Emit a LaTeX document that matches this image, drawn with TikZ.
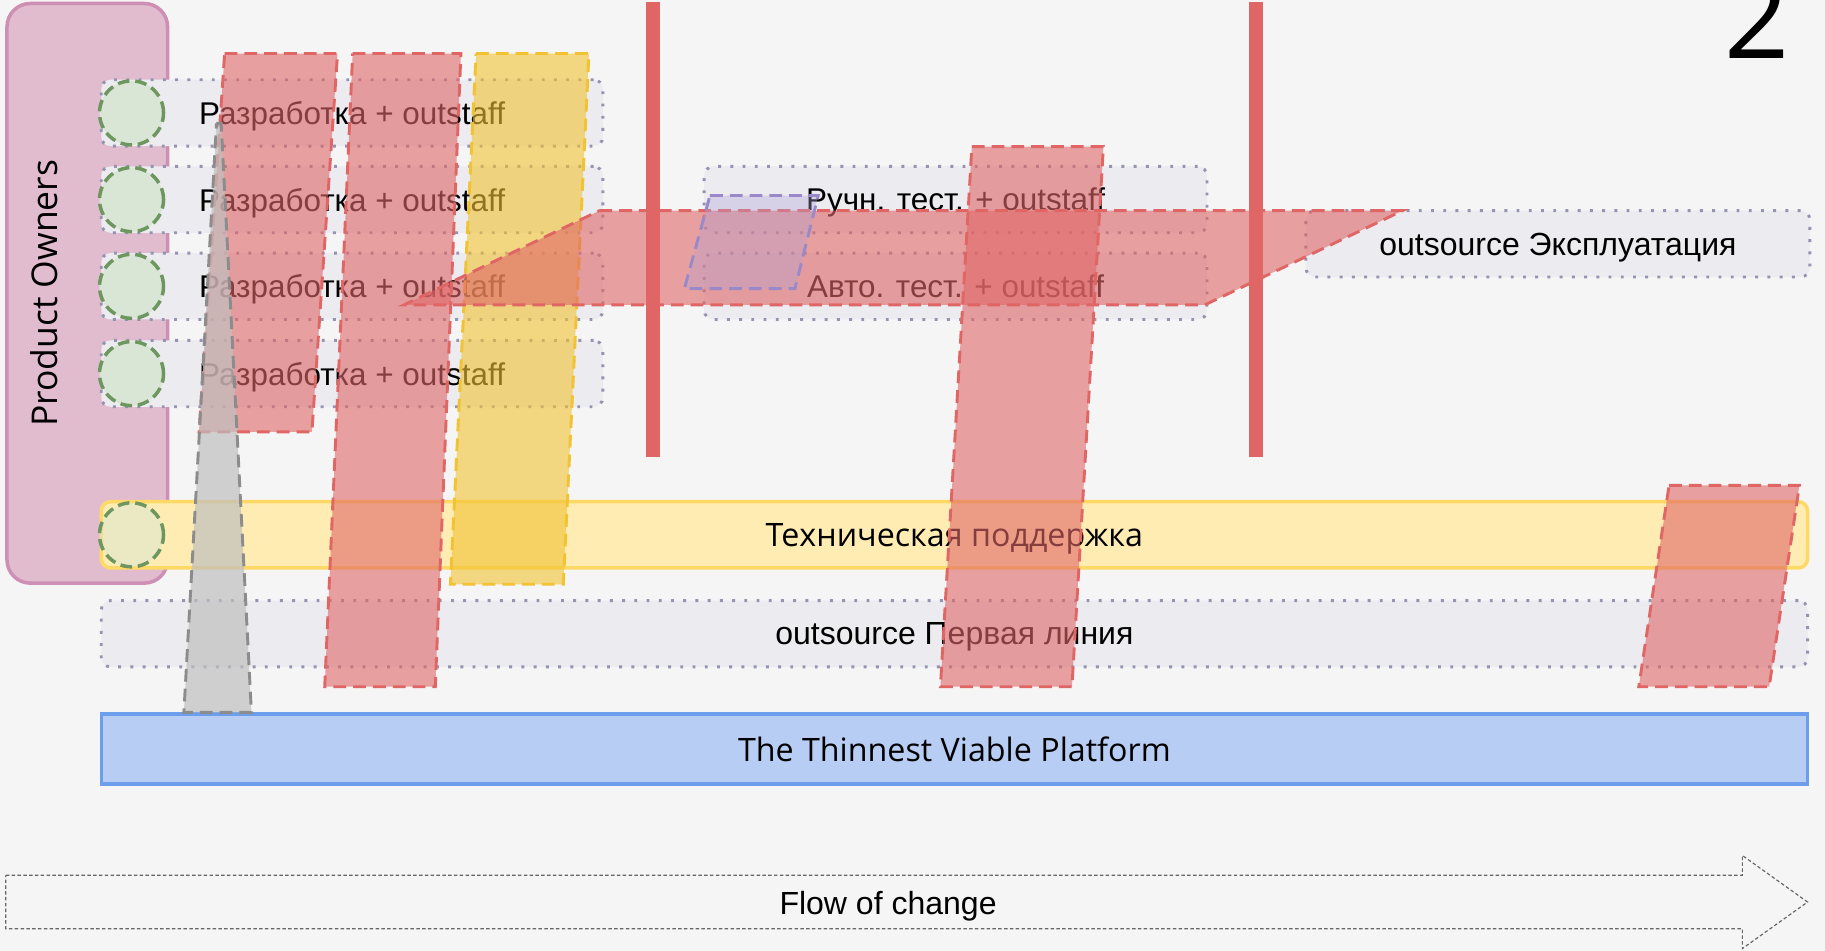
\documentclass[tikz,border=0pt]{standalone}
\usepackage{fontspec}
\setmainfont{Liberation Sans}
\newfontfamily\opensans{Open Sans}

\definecolor{bgcol}{HTML}{F5F5F5}
\definecolor{pinkfill}{HTML}{E1BCCF}
\definecolor{pinkline}{HTML}{CD8FB3}
\definecolor{lanefill}{HTML}{EBEBF0}
\definecolor{laneline}{HTML}{9494B0}
\definecolor{greenfill}{HTML}{D9E5D5}
\definecolor{greenline}{HTML}{6E965F}
\definecolor{redcol}{HTML}{E06666}
\definecolor{yellowcol}{HTML}{F1C232}
\definecolor{supfill}{HTML}{FFECB3}
\definecolor{supline}{HTML}{FFD966}
\definecolor{bluefill}{HTML}{B8CDF3}
\definecolor{blueline}{HTML}{6D9EEB}
\definecolor{purplecol}{HTML}{8E7CC3}

\begin{document}
\begin{tikzpicture}[x=1pt, y=-1pt,
    lane/.style={draw=laneline, fill=lanefill, line width=2.5pt, dash pattern=on 2.5pt off 8pt,
        rounded corners=8pt, minimum height=57pt, inner sep=0pt, text depth=0pt, font=\fontsize{27}{30}\selectfont},
    po/.style={circle, draw=greenline, fill=greenfill, line width=3pt, dash pattern=on 10pt off 5pt,
        minimum size=55pt, inner sep=0pt},
    band/.style={minimum width=1466pt, inner sep=0pt, text depth=0pt, font=\opensans\fontsize{27.7}{30}\selectfont},
    overlay red/.style={fill=redcol, fill opacity=0.6, draw=redcol, line width=2.5pt, dash pattern=on 11pt off 6pt},
    overlay yellow/.style={fill=yellowcol, fill opacity=0.6, draw=yellowcol, line width=2.5pt, dash pattern=on 11pt off 6pt},
    gate/.style={draw=redcol, line width=12pt}]

\useasboundingbox (0,0) rectangle (1568,817);
\fill[bgcol] (0,0) rectangle (1568,817);

% product owners
\node[draw=pinkline, fill=pinkfill, line width=3pt, rounded corners=20pt, minimum width=138pt, minimum height=498pt] (owners) at (75,252) {};
\node[rotate=90, font=\opensans\fontsize{30.5}{32}\selectfont] (ownerstext) at (38,252) {Product Owners};

% dev teams
\foreach \i/\y in {1/97,2/171.5,3/246,4/321} {
    \node[lane, minimum width=431pt] (dev\i) at (302.5,\y) {Разработка + outstaff};
    \node[po] (po\i) at (113,\y) {};
}

% testing and operations
\node[lane, minimum width=432pt] (manual) at (821,171.5) {Ручн. тест. + outstaff};
\node[lane, minimum width=432pt] (auto) at (821,246) {Авто. тест. + outstaff};
\node[lane, minimum width=433pt, font=\fontsize{27.5}{30}\selectfont] (ops) at (1338.5,209.5) {outsource Эксплуатация};

% platform bands
\node[band, draw=supline, fill=supfill, line width=3pt, rounded corners=8pt, minimum height=57pt] (support) at (820,459.5) {Техническая поддержка};
\node[po, fill opacity=0.5, draw opacity=1] (po5) at (113,459.5) {};
\node[band, lane, minimum width=1466pt, font=\fontsize{27.5}{30}\selectfont] (firstline) at (820,544.5) {outsource Первая линия};
\node[band, draw=blueline, fill=bluefill, line width=3pt, minimum height=60pt] (platform) at (820,643.5) {The Thinnest Viable Platform};

% value streams
\draw[overlay red] (193,46) -- (290,46) -- (268,371) -- (171,371) -- cycle;
\draw[overlay red] (303,46) -- (396,46) -- (374,590) -- (279,590) -- cycle;
\draw[overlay yellow] (409,46) -- (506,46) -- (484,502) -- (387,502) -- cycle;
\draw[fill=black!25, fill opacity=0.7, draw=black!45, line width=2.5pt, dash pattern=on 11pt off 6pt]
    (186,106) -- (190,106) -- (216,612) -- (158,612) -- cycle;
\draw[overlay red] (515,181) -- (1205,181) -- (1035,262) -- (347,262) -- cycle;
\draw[fill=purplecol!70, fill opacity=0.35, draw=purplecol!90, line width=2.5pt, dash pattern=on 11pt off 6pt]
    (610,168) -- (703,168) -- (683,248) -- (588,248) -- cycle;
\draw[overlay red] (835,126) -- (948,126) -- (921,590) -- (808,590) -- cycle;
\draw[overlay red] (1434,417) -- (1546,417) -- (1520,590) -- (1408,590) -- cycle;

% gates
\draw[gate] (561,2) -- (561,393);
\draw[gate] (1079,2) -- (1079,393);

% flow
\draw[draw=black!60, line width=1pt, dash pattern=on 3pt off 2pt]
    (5,752) -- (1497,752) -- (1497,735) -- (1553,775) -- (1497,815) -- (1497,798) -- (5,798) -- cycle;
\node[text depth=0pt, font=\fontsize{27.5}{30}\selectfont] (flow) at (763,776) {Flow of change};

\node[anchor=base, font=\opensans\fontsize{98}{100}\selectfont] (stage) at (1510,50) {2};
\end{tikzpicture}
\end{document}
